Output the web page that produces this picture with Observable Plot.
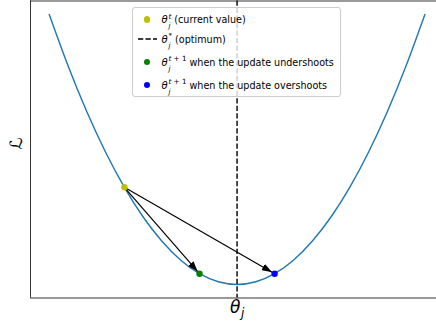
<!DOCTYPE html>
<html>
<head>
<meta charset="utf-8">
<script src="https://cdn.jsdelivr.net/npm/d3@7"></script>
<script src="https://cdn.jsdelivr.net/npm/@observablehq/plot@0.6"></script>
<style>
  body { margin: 0; background: #fff; }
  #wrap { position: relative; width: 436px; height: 322px; font-family: "DejaVu Sans", sans-serif; }
  #wrap svg.plot { position: absolute; left: 0; top: 0; }
  #legend { position: absolute; left: 131.5px; top: 7px; width: 209.5px; height: 89.5px;
    border: 1px solid #cccccc; border-radius: 3px; background: rgba(255,255,255,0.8); box-sizing: border-box; }
  .row { position: absolute; left: 0; height: 16px; display: flex; align-items: center; white-space: pre;
    font-size: 9.6px; color: #000; }
  .mk { width: 29px; display: flex; justify-content: center; align-items: center; }
  .dot { width: 6.4px; height: 6.4px; border-radius: 50%; display: inline-block; }
  .th { font-style: italic; font-size: 1.05em; }
  .st { position: relative; display: inline-block; font-size: 0.75em; font-style: normal; margin-left: 0.8px; }
  .up { position: relative; top: -0.6em; }
  .up i { font-style: italic; }
  .dn { position: absolute; left: 0; top: 0.7em; font-style: italic; }
</style>
</head>
<body>
<div id="wrap"></div>
<script>
// ---- data ----
const curveX = [-1, -0.9, -0.8, -0.7, -0.6, -0.5, -0.4, -0.3, -0.2, -0.1, 0, 0.1, 0.2, 0.3, 0.4, 0.5, 0.6, 0.7, 0.8, 0.9, 1];
const curveY = [1, 0.81, 0.64, 0.49, 0.36, 0.25, 0.16, 0.09, 0.04, 0.01, 0, 0.01, 0.04, 0.09, 0.16, 0.25, 0.36, 0.49, 0.64, 0.81, 1];
const optimum = 0;
const pointNames = ["current", "under", "over"];
const pointX = [-0.6, -0.2, 0.2];
const pointY = [0.36, 0.04, 0.04];
const arrowFrom = ["current", "current"];
const arrowTo = ["under", "over"];
const legendSups = ["t", "*", "t + 1", "t + 1"];
const legendTexts = ["(current value)", "(optimum)", "when the update undershoots", "when the update overshoots"];
const xLabelMain = "θ", xLabelSub = "j";
const yLabel = "ℒ";

// ---- styles ----
const pointColors = ["#bfbf00", "#008000", "#0000ff"];
const legendKinds = ["dot:#bfbf00", "dash", "dot:#008000", "dot:#0000ff"];
const rowCenters = [11.5, 31.3, 54, 77];

const curve = curveX.map((x, i) => ({x, y: curveY[i]}));
const points = pointNames.map((name, i) => ({name, x: pointX[i], y: pointY[i]}));
const byName = Object.fromEntries(points.map(p => [p.name, p]));
const arrows = arrowFrom.map((f, i) => ({x1: byName[f].x, y1: byName[f].y, x2: byName[arrowTo[i]].x, y2: byName[arrowTo[i]].y}));

const plot = Plot.plot({
  width: 436,
  height: 322,
  marginLeft: 30,
  marginRight: 0,
  marginTop: 0.5,
  marginBottom: 24.5,
  x: {domain: [-1.1, 1.062], axis: null},
  y: {domain: [-0.05, 1.05], axis: null},
  color: {domain: pointNames, range: pointColors},
  style: {background: "white"},
  marks: [
    Plot.ruleX([-1.1], {stroke: "black", strokeWidth: 0.8}),
    Plot.ruleY([-0.05, 1.05], {stroke: "black", strokeWidth: 0.8}),
    Plot.line(curve, {x: "x", y: "y", stroke: "#1f77b4", strokeWidth: 1.42, curve: "natural"}),
    Plot.ruleX([optimum], {stroke: "black", strokeWidth: 1.42, strokeDasharray: "5.25,2.27"}),
    Plot.link(arrows, {x1: "x1", y1: "y1", x2: "x2", y2: "y2", stroke: "black", strokeWidth: 1.2}),
    Plot.dot(points, {x: "x", y: "y", fill: "name", r: 3.2, stroke: null}),
    Plot.text([optimum], {x: d => d, frameAnchor: "bottom", text: () => xLabelMain, lineAnchor: "top", dy: 3,
      fontSize: 17, fontStyle: "italic", fontFamily: "DejaVu Sans", fill: "black"}),
    Plot.text([yLabel], {frameAnchor: "left", text: d => d, rotate: -90, dx: -13.5, lineAnchor: "middle",
      fontSize: 17, fontFamily: "DejaVu Sans", fill: "black"})
  ]
});
plot.classList.add("plot");

// arrowhead marker
const svg = d3.select(plot);
let defs = svg.select("defs");
if (defs.empty()) defs = svg.insert("defs", ":first-child");
defs.append("marker")
  .attr("id", "ahead")
  .attr("viewBox", "0 -3.6 10.5 7.2")
  .attr("refX", 13.3).attr("refY", 0)
  .attr("markerWidth", 10.5).attr("markerHeight", 7.2)
  .attr("markerUnits", "userSpaceOnUse")
  .attr("orient", "auto")
  .append("path").attr("d", "M0,-3.6L10.5,0L0,3.6Z").attr("fill", "black");
svg.selectAll('g[aria-label="link"] path, g[aria-label="link"] line').attr("marker-end", "url(#ahead)");

// x label subscript
svg.selectAll('g[aria-label="text"] text').each(function() {
  if (this.textContent === xLabelMain) {
    d3.select(this).append("tspan").attr("font-size", "0.7em").attr("dy", "0.3em").attr("dx", "0.05em").text(xLabelSub);
  }
});

const wrap = document.getElementById("wrap");
wrap.appendChild(plot);

// legend
const legend = document.createElement("div");
legend.id = "legend";
legendSups.forEach((sup, i) => {
  const row = document.createElement("div");
  row.className = "row";
  row.style.top = (rowCenters[i] - 8) + "px";
  const mk = document.createElement("span");
  mk.className = "mk";
  const kind = legendKinds[i];
  if (kind === "dash") {
    mk.innerHTML = '<svg width="19" height="4"><line x1="0" x2="19" y1="2" y2="2" stroke="black" stroke-width="1.42" stroke-dasharray="5.25,2.27"/></svg>';
  } else {
    const d = document.createElement("span");
    d.className = "dot";
    d.style.background = kind.split(":")[1];
    mk.appendChild(d);
  }
  const tx = document.createElement("span");
  const th = document.createElement("span"); th.className = "th"; th.textContent = "θ";
  const st = document.createElement("span"); st.className = "st";
  const up = document.createElement("span"); up.className = "up";
  up.innerHTML = sup.replace("t", "<i>t</i>");
  const dn = document.createElement("span"); dn.className = "dn"; dn.textContent = "j";
  st.appendChild(up); st.appendChild(dn);
  tx.appendChild(th); tx.appendChild(st);
  tx.appendChild(document.createTextNode(" " + legendTexts[i]));
  row.appendChild(mk); row.appendChild(tx);
  legend.appendChild(row);
});
wrap.appendChild(legend);
</script>
</body>
</html>
